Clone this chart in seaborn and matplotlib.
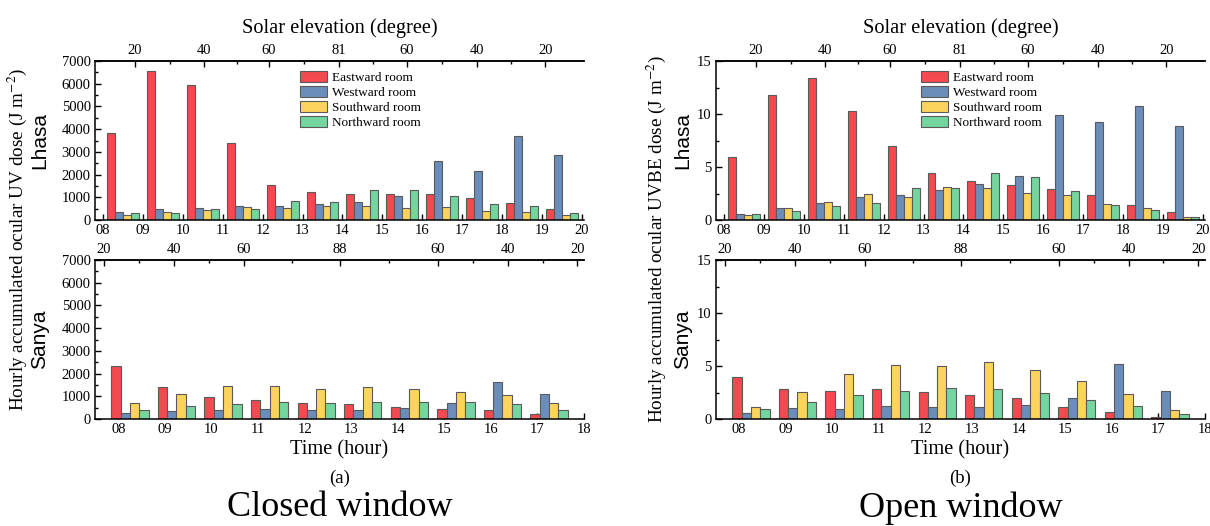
import numpy as np
import pandas as pd
import matplotlib
matplotlib.use('Agg')
import matplotlib.pyplot as plt
import seaborn as sns

# rooms and colours
rooms = ['Eastward room', 'Westward room', 'Southward room', 'Northward room']
room_colors = ['#f24a4f', '#6b8dba', '#fdd45b', '#74d59e']

lhasa_hours = ['08', '09', '10', '11', '12', '13', '14', '15', '16', '17', '18', '19']
sanya_hours = ['08', '09', '10', '11', '12', '13', '14', '15', '16', '17']
lhasa_hour_ticks = lhasa_hours + ['20']
sanya_hour_ticks = sanya_hours + ['18']

# solar elevation labels on the top axes, with their position in hours
lhasa_sun_labels = ['20', '40', '60', '81', '60', '40', '20']
lhasa_sun_hours = [8.8, 10.54, 12.16, 13.91, 15.62, 17.38, 19.08]
sanya_sun_labels = ['20', '40', '60', '88', '60', '40', '20']
sanya_sun_hours = [7.69, 9.19, 10.69, 12.76, 14.86, 16.36, 17.86]

# (a) closed window, ocular UV dose (J m-2)
lhasa_uv_east = [3850, 6570, 5950, 3380, 1530, 1220, 1150, 1160, 1130, 990, 770, 480]
lhasa_uv_west = [340, 480, 540, 600, 600, 690, 810, 1040, 2590, 2150, 3690, 2880]
lhasa_uv_south = [230, 340, 440, 560, 510, 610, 610, 550, 580, 380, 340, 240]
lhasa_uv_north = [290, 310, 470, 480, 830, 790, 1320, 1310, 1040, 690, 600, 290]

sanya_uv_east = [2340, 1430, 960, 855, 720, 640, 550, 450, 400, 210]
sanya_uv_west = [265, 360, 400, 440, 400, 380, 480, 720, 1610, 1080]
sanya_uv_south = [710, 1120, 1450, 1460, 1330, 1430, 1320, 1190, 1040, 700]
sanya_uv_north = [400, 560, 680, 770, 720, 770, 730, 730, 650, 400]

# (b) open window, ocular UVBE dose (J m-2)
lhasa_uvbe_east = [5.91, 11.76, 13.43, 10.31, 6.98, 4.47, 3.71, 3.27, 2.96, 2.39, 1.45, 0.72]
lhasa_uvbe_west = [0.6, 1.1, 1.6, 2.14, 2.39, 2.86, 3.36, 4.15, 9.87, 9.21, 10.75, 8.87]
lhasa_uvbe_south = [0.47, 1.13, 1.73, 2.45, 2.2, 3.08, 3.05, 2.58, 2.39, 1.54, 1.13, 0.28]
lhasa_uvbe_north = [0.53, 0.85, 1.35, 1.6, 2.99, 3.05, 4.47, 4.03, 2.7, 1.41, 0.91, 0.28]

sanya_uvbe_east = [3.93, 2.86, 2.64, 2.8, 2.55, 2.23, 1.95, 1.1, 0.69, 0.16]
sanya_uvbe_west = [0.6, 1.07, 0.91, 1.26, 1.16, 1.16, 1.35, 1.95, 5.19, 2.67]
sanya_uvbe_south = [1.1, 2.55, 4.25, 5.13, 5.0, 5.35, 4.62, 3.62, 2.39, 0.85]
sanya_uvbe_north = [0.97, 1.6, 2.23, 2.64, 2.96, 2.86, 2.45, 1.79, 1.19, 0.5]

sns.set_style('ticks')
plt.rcParams['font.family'] = ['Liberation Serif', 'DejaVu Serif']
plt.rcParams['mathtext.fontset'] = 'stix'
plt.rcParams['axes.linewidth'] = 1.1
for k in ['text.color', 'axes.labelcolor', 'xtick.color', 'ytick.color',
          'axes.edgecolor']:
    plt.rcParams[k] = 'black'


def to_long(hours, east, west, south, north):
    frames = []
    for room, vals in zip(rooms, [east, west, south, north]):
        frames.append(pd.DataFrame({'hour': hours, 'room': room, 'dose': vals}))
    return pd.concat(frames, ignore_index=True)


def draw_panel(ax, df, hours, hour_ticks, offset, xlim, ymax, ystep,
               sun_labels, sun_hours, legend):
    sns.barplot(data=df, x='hour', y='dose', hue='room', order=hours,
                hue_order=rooms, palette=room_colors, saturation=1,
                edgecolor='#5a5a5a', linewidth=0.8, width=0.8,
                legend=legend, ax=ax)
    ax.set_xlim(xlim)
    ax.set_ylim(0, ymax)
    ax.set_xticks(np.arange(len(hour_ticks)) - offset, labels=hour_ticks)
    ax.set_yticks(np.arange(0, ymax + ystep / 2, ystep))
    ax.set_yticks(np.arange(0, ymax, ystep / 2), minor=True)
    ax.set_xlabel('')
    ax.set_ylabel('')
    ax.spines['right'].set_visible(False)
    ax.tick_params(axis='both', which='major', direction='in', length=4,
                   width=1, labelsize=10.5, pad=3)
    ax.tick_params(axis='y', which='minor', direction='in', length=2.5, width=1)

    # top axis: solar elevation
    pos = np.array(sun_hours) - 8 - offset
    sec = ax.secondary_xaxis('top')
    sec.set_xticks(pos, labels=sun_labels)
    sec.set_xticks((pos[:-1] + pos[1:]) / 2, minor=True)
    sec.tick_params(which='major', direction='in', length=4, width=1,
                    labelsize=10.5, pad=3)
    sec.tick_params(which='minor', direction='in', length=2.5, width=1)
    if legend:
        ax.legend(loc='upper left', bbox_to_anchor=(0.42, 0.94),
                  frameon=False, fontsize=9.5, handlelength=2.05,
                  handleheight=1.0, labelspacing=0.12, handletextpad=0.35,
                  borderaxespad=0, borderpad=0)
        sec.set_xlabel('Solar elevation (degree)', fontsize=14.7, labelpad=8)
    return sec


fig = plt.figure(figsize=(12.1, 5.26), dpi=100)

# left column: closed window (UV), right column: open window (UVBE)
panels = [
    dict(left=0.0785, city_x=40, df=to_long(lhasa_hours, lhasa_uv_east, lhasa_uv_west,
                                            lhasa_uv_south, lhasa_uv_north),
         city='Lhasa', top=True, ymax=7000, ystep=1000),
    dict(left=0.0785, city_x=40, df=to_long(sanya_hours, sanya_uv_east, sanya_uv_west,
                                            sanya_uv_south, sanya_uv_north),
         city='Sanya', top=False, ymax=7000, ystep=1000),
    dict(left=0.5917, city_x=683, df=to_long(lhasa_hours, lhasa_uvbe_east, lhasa_uvbe_west,
                                             lhasa_uvbe_south, lhasa_uvbe_north),
         city='Lhasa', top=True, ymax=15, ystep=5),
    dict(left=0.5917, city_x=683, df=to_long(sanya_hours, sanya_uvbe_east, sanya_uvbe_west,
                                             sanya_uvbe_south, sanya_uvbe_north),
         city='Sanya', top=False, ymax=15, ystep=5),
]

for p in panels:
    bottom = 0.5817 if p['top'] else 0.2034
    ax = fig.add_axes([p['left'], bottom, 0.4041, 0.3023])
    if p['top']:
        draw_panel(ax, p['df'], lhasa_hours, lhasa_hour_ticks, 0.5,
                   (-0.7, 11.55), p['ymax'], p['ystep'],
                   lhasa_sun_labels, lhasa_sun_hours, True)
    else:
        draw_panel(ax, p['df'], sanya_hours, sanya_hour_ticks, 0.25,
                   (-0.75, 9.75), p['ymax'], p['ystep'],
                   sanya_sun_labels, sanya_sun_hours, False)
    yc = bottom + 0.3023 / 2
    fig.text(p['city_x'] / 1210, yc, p['city'], rotation=90, ha='center',
             va='center', fontsize=15, family=['Liberation Sans', 'DejaVu Sans'])

# shared labels of each half
for left, ylab_x, ylab, tag, cond in [
        (0.0785, 17, 'Hourly accumulated ocular UV dose (J m$^{-2}$)', '(a)', 'Closed window'),
        (0.5917, 656, 'Hourly accumulated ocular UVBE dose (J m$^{-2}$)', '(b)', 'Open window')]:
    xc = left + 0.4041 / 2
    fig.text(ylab_x / 1210, 0.545, ylab, rotation=90, ha='center', va='center',
             fontsize=13.8)
    fig.text(xc, 1 - 450 / 526, 'Time (hour)', ha='center', va='center', fontsize=14.7)
    fig.text(xc, 1 - 478 / 526, tag, ha='center', va='center', fontsize=13.5)
    fig.text(xc, 1 - 508 / 526, cond, ha='center', va='center', fontsize=26)

fig.savefig('out.png', dpi=100)
